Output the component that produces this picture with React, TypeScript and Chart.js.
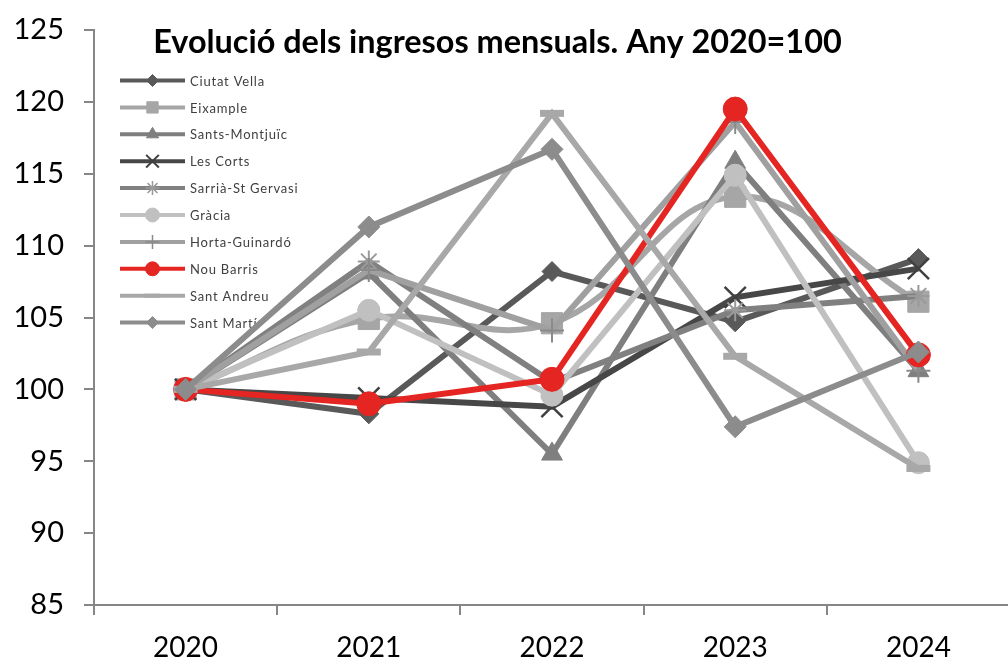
import React, { useEffect, useRef } from 'react';
import { Chart, registerables } from 'chart.js';
import { drawPoint } from 'chart.js/helpers';

Chart.register(...registerables);

const categories = ['2020', '2021', '2022', '2023', '2024'];

const ciutatVella = [100, 98.3, 108.2, 104.7, 109.1];
const eixample = [100, 104.9, 104.6, 113.4, 106.1];
const santsMontjuic = [100, 108.1, 95.5, 115.8, 101.3];
const lesCorts = [100, 99.4, 98.8, 106.4, 108.4];
const sarria = [100, 108.9, 100.5, 105.5, 106.5];
const gracia = [100, 105.5, 99.6, 114.9, 94.9];
const hortaGuinardo = [100, 108.3, 104.1, 118.6, 101.3];
const nouBarris = [100, 99.0, 100.7, 119.5, 102.4];
const santAndreu = [100, 102.6, 119.2, 102.3, 94.5];
const santMarti = [100, 111.3, 116.7, 97.4, 102.6];

const seriesNames = [
  'Ciutat Vella',
  'Eixample',
  'Sants-Montjuïc',
  'Les Corts',
  'Sarrià-St Gervasi',
  'Gràcia',
  'Horta-Guinardó',
  'Nou Barris',
  'Sant Andreu',
  'Sant Martí',
];

const seriesValues = [
  ciutatVella,
  eixample,
  santsMontjuic,
  lesCorts,
  sarria,
  gracia,
  hortaGuinardo,
  nouBarris,
  santAndreu,
  santMarti,
];

const seriesColors = [
  '#595959',
  '#a6a6a6',
  '#7f7f7f',
  '#474747',
  '#808080',
  '#c0c0c0',
  '#a0a0a0',
  '#e42521',
  '#a8a8a8',
  '#8c8c8c',
];

// marker: [pointStyle, radius, borderWidth, markerColor, legendRadius, legendBorder]
const markerStyles: [string, number, number, string | null, number, number][] = [
  ['rectRot', 10, 1, null, 6, 1],
  ['rect', 15, 1, null, 8, 1],
  ['triangle', 12, 1, null, 7, 1],
  ['crossRot', 15, 2.5, '#404040', 9, 2],
  ['star', 11, 2, '#9a9a9a', 7, 1.5],
  ['circle', 11, 1, null, 7, 1],
  ['cross', 12, 2, '#8a8a8a', 7, 1.5],
  ['circle', 12, 1, null, 7, 1],
  ['line', 12, 7, null, 8, 4],
  ['rectRot', 11, 1, null, 6, 1],
];

const smoothSeries = [false, true, false, false, false, false, false, false, false, false];

const titleText = 'Evolució dels ingresos mensuals. Any 2020=100';

export default function App() {
  const ref = useRef<HTMLCanvasElement>(null);

  useEffect(() => {
    const canvas = ref.current;
    if (!canvas) return;

    const n = seriesNames.length;
    const datasets = seriesNames.map((name, i) => {
      const [style, radius, bw, mcol] = markerStyles[i];
      const col = seriesColors[i];
      return {
        label: name,
        data: seriesValues[i],
        borderColor: col,
        backgroundColor: col,
        borderWidth: 6,
        tension: smoothSeries[i] ? 0.4 : 0,
        pointStyle: style as any,
        pointRadius: radius,
        pointHoverRadius: radius,
        pointBorderWidth: bw,
        pointBackgroundColor: mcol || col,
        pointBorderColor: mcol || col,
        order: n - i,
        fill: false,
        clip: false as any,
      };
    });

    const legendPlugin = {
      id: 'customLegend',
      beforeDatasetsDraw(chart: any) {
        const ctx = chart.ctx as CanvasRenderingContext2D;
        ctx.save();
        const x0 = 120;
        const x1 = 185;
        const xt = 190;
        const y0 = 80.5;
        const dy = 26.9;
        seriesNames.forEach((name, i) => {
          const y = y0 + i * dy;
          const col = seriesColors[i];
          ctx.strokeStyle = col;
          ctx.lineWidth = 4;
          ctx.lineCap = 'butt';
          ctx.beginPath();
          ctx.moveTo(x0, y);
          ctx.lineTo(x1, y);
          ctx.stroke();
          const [style, , , mcol, lr, lb] = markerStyles[i];
          ctx.fillStyle = mcol || col;
          ctx.strokeStyle = mcol || col;
          ctx.lineWidth = lb;
          drawPoint(ctx, { pointStyle: style as any, rotation: 0, radius: lr, borderWidth: lb }, (x0 + x1) / 2, y);
          ctx.fillStyle = '#404040';
          (ctx as any).letterSpacing = '0.8px';
          ctx.font = '13px Lato';
          ctx.textBaseline = 'middle';
          ctx.textAlign = 'left';
          ctx.fillText(name, xt, y + 1);
        });
        ctx.restore();
      },
    };

    const titlePlugin = {
      id: 'customTitle',
      afterDraw(chart: any) {
        const ctx = chart.ctx as CanvasRenderingContext2D;
        ctx.save();
        let size = 28;
        ctx.font = `bold ${size}px Lato`;
        const w = ctx.measureText(titleText).width;
        size = size * (689 / w);
        ctx.font = `bold ${size}px Lato`;
        ctx.fillStyle = '#000000';
        ctx.textAlign = 'center';
        ctx.textBaseline = 'middle';
        ctx.fillText(titleText, 497.5, 43);
        ctx.restore();
      },
    };

    const chart = new Chart(canvas, {
      type: 'line',
      data: { labels: categories, datasets: datasets as any },
      options: {
        responsive: false,
        animation: false,
        events: [],
        layout: { autoPadding: false, padding: { top: 30, left: 0, right: 0, bottom: 0 } },
        plugins: {
          legend: { display: false },
          tooltip: { enabled: false },
          title: { display: false },
        },
        scales: {
          x: {
            offset: true,
            grid: {
              offset: true,
              drawOnChartArea: false,
              drawTicks: true,
              tickLength: 10,
              color: '#868686',
              lineWidth: 2,
            },
            border: { color: '#868686', width: 2 },
            ticks: {
              color: '#000000',
              font: { family: 'Lato', size: 28 },
              padding: 16,
              maxRotation: 0,
            },
            afterFit: (s: any) => {
              s.height = 55;
              s.paddingLeft = 0;
              s.paddingRight = 0;
            },
          },
          y: {
            min: 85,
            max: 125,
            ticks: {
              stepSize: 5,
              color: '#000000',
              font: { family: 'Lato', size: 29 },
              padding: 20,
            },
            grid: {
              drawOnChartArea: false,
              drawTicks: true,
              tickLength: 10,
              color: '#868686',
              lineWidth: 2,
            },
            border: { color: '#868686', width: 2 },
            afterFit: (s: any) => {
              s.width = 94;
              s.paddingTop = 0;
              s.paddingBottom = 0;
            },
          },
        },
      },
      plugins: [legendPlugin, titlePlugin],
    });

    return () => chart.destroy();
  }, []);

  return (
    <div
      style={{
        position: 'fixed',
        left: 0,
        top: 0,
        width: 1008,
        height: 660,
        overflow: 'hidden',
        background: '#ffffff',
      }}
    >
      <canvas ref={ref} width={1010} height={660} style={{ display: 'block', width: 1010, height: 660 }} />
    </div>
  );
}
